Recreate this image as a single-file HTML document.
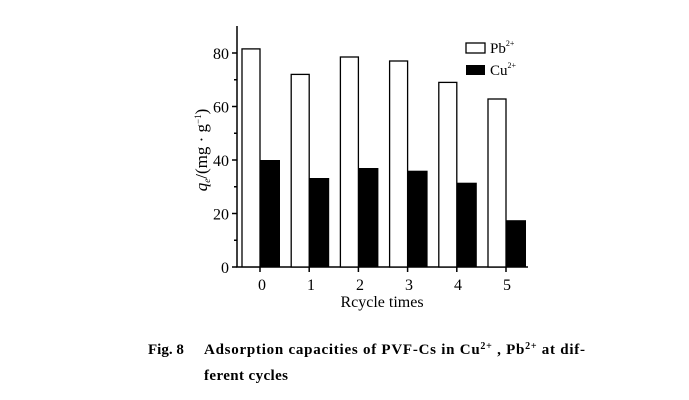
<!DOCTYPE html>
<html><head><style>body{margin:0;background:#fff}svg{display:block}</style></head><body>
<svg width="689" height="400" xmlns="http://www.w3.org/2000/svg" font-family="Liberation Serif, serif">
<rect width="689" height="400" fill="#fff"/>
<g stroke="#000" stroke-width="1.5" fill="none">
<line x1="237" y1="26" x2="237" y2="267.5"/>
<line x1="236.3" y1="267" x2="528" y2="267"/>
<line x1="232" y1="267" x2="237" y2="267"/>
<line x1="232" y1="213.5" x2="237" y2="213.5"/>
<line x1="232" y1="160" x2="237" y2="160"/>
<line x1="232" y1="106.5" x2="237" y2="106.5"/>
<line x1="232" y1="53" x2="237" y2="53"/>
<line x1="234" y1="240.25" x2="237" y2="240.25"/>
<line x1="234" y1="186.75" x2="237" y2="186.75"/>
<line x1="234" y1="133.25" x2="237" y2="133.25"/>
<line x1="234" y1="79.75" x2="237" y2="79.75"/>
<line x1="260" y1="267" x2="260" y2="272"/>
<line x1="309.2" y1="267" x2="309.2" y2="272"/>
<line x1="358.4" y1="267" x2="358.4" y2="272"/>
<line x1="407.6" y1="267" x2="407.6" y2="272"/>
<line x1="456.8" y1="267" x2="456.8" y2="272"/>
<line x1="506" y1="267" x2="506" y2="272"/>
</g>
<g stroke="#000" stroke-width="1.3" fill="#fff">
<rect x="242" y="48.9" width="18" height="218"/>
<rect x="291.2" y="74.4" width="18" height="192.6"/>
<rect x="340.4" y="57" width="18" height="210"/>
<rect x="389.6" y="61" width="18" height="206"/>
<rect x="438.8" y="82.4" width="18" height="184.6"/>
<rect x="488" y="99" width="18" height="168"/>
<rect x="466" y="43" width="19" height="10"/>
</g>
<g fill="#000">
<rect x="260" y="160" width="20" height="107"/>
<rect x="309.2" y="178" width="20" height="89"/>
<rect x="358.4" y="168" width="20" height="99"/>
<rect x="407.6" y="170.7" width="20" height="96.3"/>
<rect x="456.8" y="182.7" width="20" height="84.3"/>
<rect x="506" y="220.2" width="20" height="46.8"/>
<rect x="466" y="65" width="19" height="10"/>
</g>
<g font-size="16" text-anchor="end">
<text x="229" y="273">0</text><text x="229" y="219.5">20</text><text x="229" y="166">40</text><text x="229" y="112.5">60</text><text x="229" y="59">80</text>
</g>
<g font-size="16" text-anchor="middle">
<text x="262" y="290">0</text><text x="311" y="290">1</text><text x="360" y="290">2</text><text x="409" y="290">3</text><text x="458" y="290">4</text><text x="507" y="290">5</text>
<text x="382" y="307">Rcycle times</text>
</g>
<text x="490" y="53" font-size="15">Pb<tspan font-size="8" dy="-7">2+</tspan></text>
<text x="490" y="75" font-size="15">Cu<tspan font-size="8" dy="-7">2+</tspan></text>
<text transform="translate(207,150) rotate(-90)" text-anchor="middle" font-size="17"><tspan font-style="italic">q</tspan><tspan font-style="italic" font-size="9" dy="3">e</tspan><tspan dy="-3">/(mg · g</tspan><tspan font-size="9" dy="-6">−1</tspan><tspan dy="6">)</tspan></text>
<g font-size="15" font-weight="bold">
<text x="148" y="354">Fig. 8</text>
<text x="204" y="354" textLength="381" lengthAdjust="spacing">Adsorption capacities of PVF-Cs in Cu<tspan font-size="10" dy="-5">2+</tspan><tspan dy="5"> ,  Pb</tspan><tspan font-size="10" dy="-5">2+</tspan><tspan dy="5"> at dif-</tspan></text>
<text x="204" y="380" textLength="84" lengthAdjust="spacing">ferent cycles</text>
</g>
</svg>
</body></html>
